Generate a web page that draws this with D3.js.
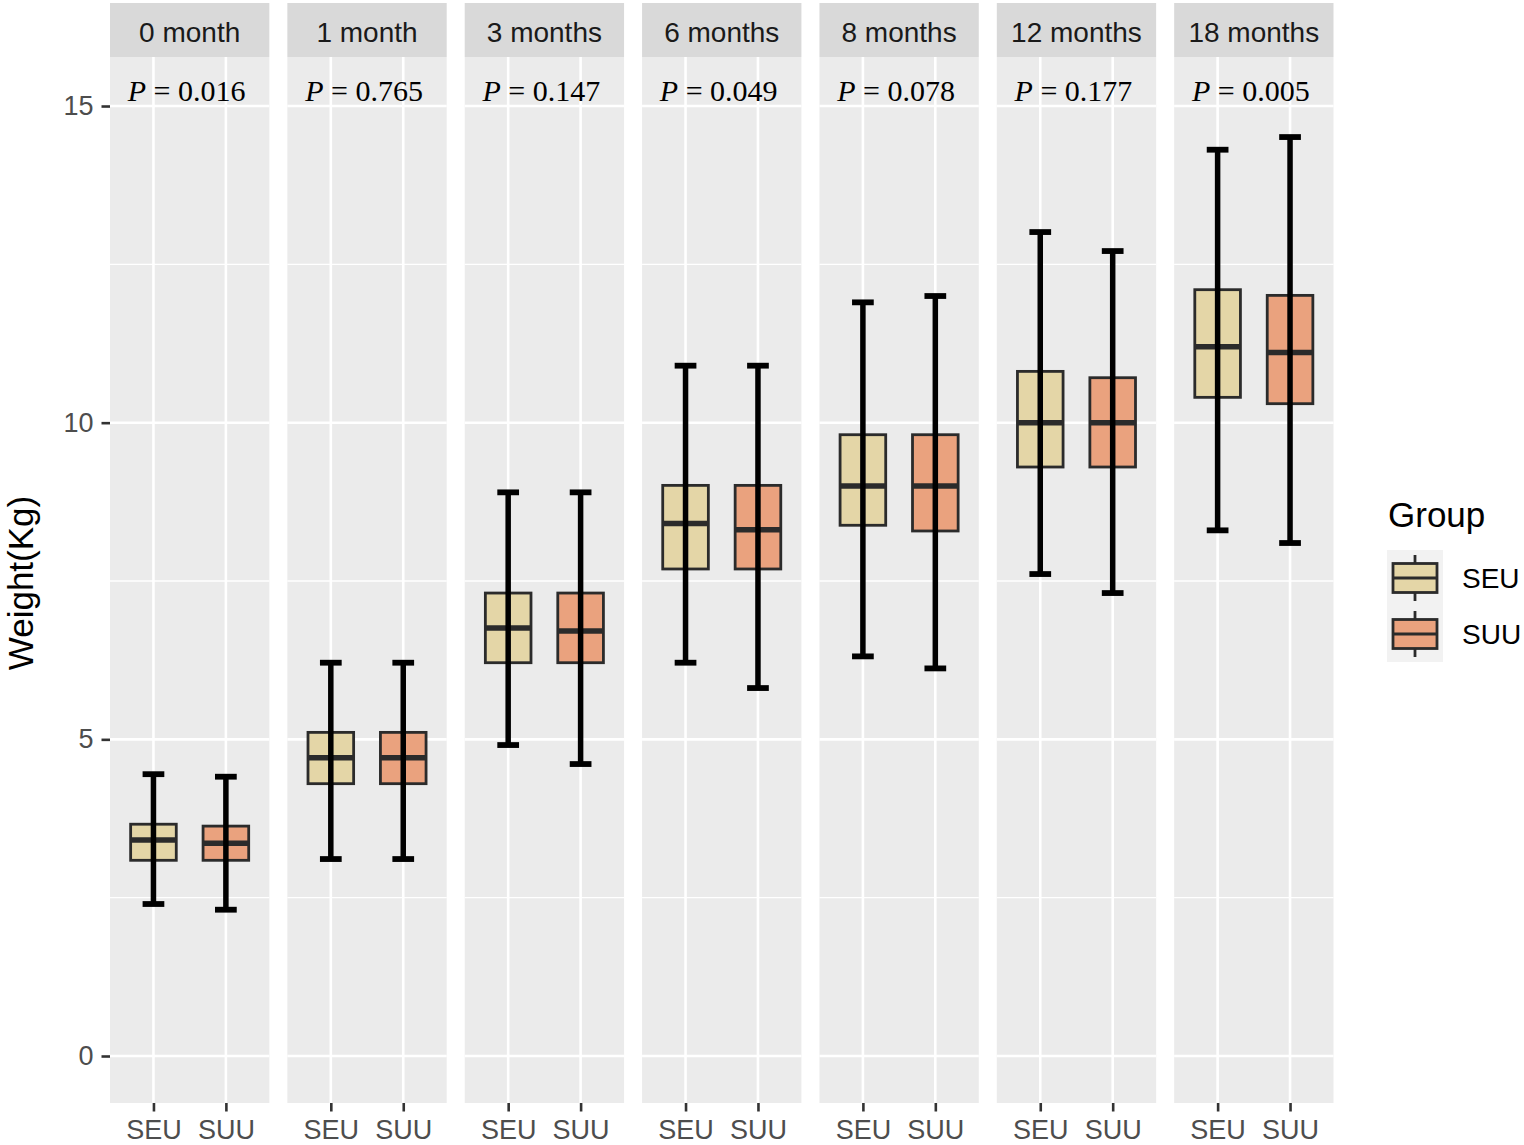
<!DOCTYPE html>
<html>
<head>
<meta charset="utf-8">
<script src="https://cdn.jsdelivr.net/npm/d3@7"></script>
<style>
  html, body { margin: 0; padding: 0; background: #ffffff; }
  svg { display: block; }
</style>
</head>
<body>
<svg id="chart" width="1524" height="1145"></svg>
<script>
// ---- data ----
const months = ["0 month", "1 month", "3 months", "6 months", "8 months", "12 months", "18 months"];
const pValues = ["0.016", "0.765", "0.147", "0.049", "0.078", "0.177", "0.005"];
const groups = ["SEU", "SUU"];
const groupColors = ["#E4D6A7", "#EAA27E"];

const seuMin = [2.40, 3.11, 4.91, 6.21, 6.31, 7.61, 8.30];
const seuQ1  = [3.09, 4.30, 6.21, 7.69, 8.38, 9.30, 10.40];
const seuMed = [3.41, 4.71, 6.76, 8.41, 9.00, 10.00, 11.20];
const seuQ3  = [3.66, 5.11, 7.31, 9.01, 9.81, 10.81, 12.10];
const seuMax = [4.45, 6.21, 8.90, 10.90, 11.90, 13.01, 14.31];

const suuMin = [2.31, 3.11, 4.61, 5.81, 6.12, 7.31, 8.10];
const suuQ1  = [3.09, 4.30, 6.21, 7.69, 8.29, 9.30, 10.30];
const suuMed = [3.36, 4.71, 6.71, 8.31, 9.00, 10.00, 11.11];
const suuQ3  = [3.63, 5.11, 7.31, 9.01, 9.81, 10.71, 12.01];
const suuMax = [4.41, 6.21, 8.90, 10.90, 12.00, 12.71, 14.51];

const yTicks = [0, 5, 10, 15];
const yMinorTicks = [2.5, 7.5, 12.5];

// ---- build records ----
const stats = {
  SEU: { min: seuMin, q1: seuQ1, med: seuMed, q3: seuQ3, max: seuMax },
  SUU: { min: suuMin, q1: suuQ1, med: suuMed, q3: suuQ3, max: suuMax }
};
const records = [];
months.forEach((m, i) => {
  groups.forEach(g => {
    const s = stats[g];
    records.push({ month: m, group: g, min: s.min[i], q1: s.q1[i], med: s.med[i], q3: s.q3[i], max: s.max[i] });
  });
});

// ---- layout ----
const svg = d3.select("#chart");
const panelTop = 57, panelBottom = 1103, stripTop = 3;
const left = 110, right = 1333.5;

const y = d3.scaleLinear().domain([-0.742, 15.774]).range([panelBottom, panelTop]);
const fx = d3.scaleBand().domain(months).range([left, right]).paddingInner(0.1016).paddingOuter(0);
const bw = fx.bandwidth();
const x = d3.scalePoint().domain(groups).range([0, bw]).padding(0.6);
const unit = x.step();
const color = d3.scaleOrdinal().domain(groups).range(groupColors);

const boxW = 0.63 * unit;
const capW = 0.30 * unit;

const font = "'Liberation Sans', Arial, sans-serif";
const serif = "'Liberation Serif', 'Times New Roman', serif";

const panels = svg.selectAll("g.panel").data(months).join("g")
  .attr("class", "panel")
  .attr("transform", d => `translate(${fx(d)},0)`);

// strip
panels.append("rect")
  .attr("x", 0).attr("y", stripTop).attr("width", bw).attr("height", panelTop - stripTop)
  .attr("fill", "#D9D9D9");
panels.append("text")
  .attr("x", bw / 2).attr("y", 42)
  .attr("text-anchor", "middle")
  .attr("font-family", font).attr("font-size", 28).attr("fill", "#1A1A1A")
  .text(d => d);

// panel background
panels.append("rect")
  .attr("x", 0).attr("y", panelTop).attr("width", bw).attr("height", panelBottom - panelTop)
  .attr("fill", "#EBEBEB");

// minor grid
panels.selectAll("line.minor").data(yMinorTicks).join("line")
  .attr("x1", 0).attr("x2", bw)
  .attr("y1", d => y(d)).attr("y2", d => y(d))
  .attr("stroke", "#ffffff").attr("stroke-width", 1.3);
// major grid
panels.selectAll("line.major").data(yTicks).join("line")
  .attr("x1", 0).attr("x2", bw)
  .attr("y1", d => y(d)).attr("y2", d => y(d))
  .attr("stroke", "#ffffff").attr("stroke-width", 2.6);
panels.selectAll("line.vmajor").data(groups).join("line")
  .attr("x1", d => x(d)).attr("x2", d => x(d))
  .attr("y1", panelTop).attr("y2", panelBottom)
  .attr("stroke", "#ffffff").attr("stroke-width", 2.6);

// boxes
panels.each(function(m) {
  const g = d3.select(this);
  const recs = records.filter(r => r.month === m);
  const bx = g.selectAll("g.box").data(recs).join("g").attr("class", "box");
  bx.append("rect")
    .attr("x", d => x(d.group) - boxW / 2)
    .attr("width", boxW)
    .attr("y", d => y(d.q3))
    .attr("height", d => y(d.q1) - y(d.q3))
    .attr("fill", d => color(d.group))
    .attr("stroke", "#2B2B2B").attr("stroke-width", 2.8);
  bx.append("line")
    .attr("x1", d => x(d.group) - boxW / 2).attr("x2", d => x(d.group) + boxW / 2)
    .attr("y1", d => y(d.med)).attr("y2", d => y(d.med))
    .attr("stroke", "#2B2B2B").attr("stroke-width", 5.5);
  // error bar (on top)
  bx.append("line")
    .attr("x1", d => x(d.group)).attr("x2", d => x(d.group))
    .attr("y1", d => y(d.max)).attr("y2", d => y(d.min))
    .attr("stroke", "#000000").attr("stroke-width", 5.5);
  bx.append("line")
    .attr("x1", d => x(d.group) - capW / 2).attr("x2", d => x(d.group) + capW / 2)
    .attr("y1", d => y(d.max)).attr("y2", d => y(d.max))
    .attr("stroke", "#000000").attr("stroke-width", 5.8);
  bx.append("line")
    .attr("x1", d => x(d.group) - capW / 2).attr("x2", d => x(d.group) + capW / 2)
    .attr("y1", d => y(d.min)).attr("y2", d => y(d.min))
    .attr("stroke", "#000000").attr("stroke-width", 5.8);
});

// P-value labels
panels.append("text")
  .attr("x", bw / 2 - 3).attr("y", 101)
  .attr("text-anchor", "middle")
  .attr("font-family", serif).attr("font-size", 30).attr("fill", "#000000")
  .each(function(m, i) {
    const t = d3.select(this);
    t.append("tspan").attr("font-style", "italic").text("P");
    t.append("tspan").text(" = " + pValues[i]);
  });

// x axes
panels.each(function() {
  const g = d3.select(this).append("g").attr("transform", `translate(0,${panelBottom})`);
  const ax = d3.axisBottom(x).tickSize(8.5).tickPadding(8);
  g.call(ax);
  g.select(".domain").remove();
  g.selectAll(".tick line").attr("stroke", "#333333").attr("stroke-width", 2.6);
  g.selectAll(".tick text")
    .attr("font-family", font).attr("font-size", 27).attr("fill", "#4D4D4D")
    .attr("dy", null).attr("y", 35.5);
});

// y axis
const ya = svg.append("g").attr("transform", `translate(${left},0)`);
ya.call(d3.axisLeft(y).tickValues(yTicks).tickSize(8.5).tickPadding(8).tickFormat(d3.format("d")));
ya.select(".domain").remove();
ya.selectAll(".tick line").attr("stroke", "#333333").attr("stroke-width", 2.6);
ya.selectAll(".tick text")
  .attr("font-family", font).attr("font-size", 27).attr("fill", "#4D4D4D");

// y title
svg.append("text")
  .attr("transform", "translate(33,583) rotate(-90)")
  .attr("text-anchor", "middle")
  .attr("font-family", font).attr("font-size", 35).attr("fill", "#000000")
  .text("Weight(Kg)");

// legend
const lg = svg.append("g").attr("transform", "translate(1387,0)");
lg.append("text")
  .attr("x", 1).attr("y", 527)
  .attr("font-family", font).attr("font-size", 35).attr("fill", "#000000")
  .text("Group");
const keyH = 56, keyW = 56, keyTop = 550;
const keys = lg.selectAll("g.key").data(groups).join("g")
  .attr("class", "key")
  .attr("transform", (d, i) => `translate(0,${keyTop + i * keyH})`);
keys.append("rect").attr("width", keyW).attr("height", keyH).attr("fill", "#F2F2F2");
keys.append("line")
  .attr("x1", keyW / 2).attr("x2", keyW / 2).attr("y1", 5).attr("y2", keyH - 5)
  .attr("stroke", "#2B2B2B").attr("stroke-width", 2.8);
keys.append("rect")
  .attr("x", 6).attr("y", 13.5).attr("width", keyW - 12).attr("height", 29)
  .attr("fill", d => color(d)).attr("stroke", "#2B2B2B").attr("stroke-width", 2.8);
keys.append("line")
  .attr("x1", 6).attr("x2", keyW - 6).attr("y1", keyH / 2).attr("y2", keyH / 2)
  .attr("stroke", "#2B2B2B").attr("stroke-width", 2.8);
keys.append("text")
  .attr("x", 75).attr("y", keyH / 2 + 10)
  .attr("font-family", font).attr("font-size", 28).attr("fill", "#000000")
  .text(d => d);
</script>
</body>
</html>
